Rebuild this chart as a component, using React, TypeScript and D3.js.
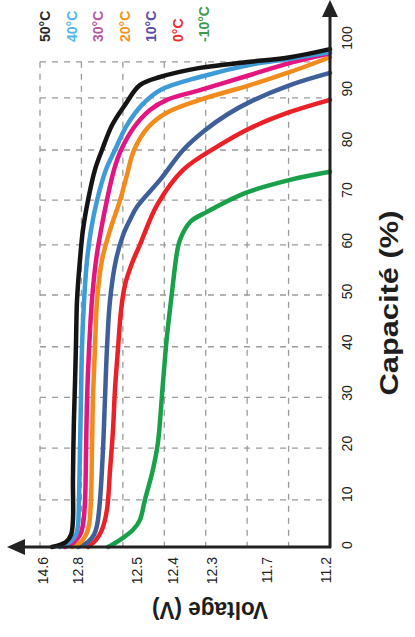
import React from "react";
import * as d3 from "d3";

// ---- Data (capacity %, voltage V) ----
const temperatures = ["50°C", "40°C", "30°C", "20°C", "10°C", "0°C", "-10°C"];
const capacityTicks = [0, 10, 20, 30, 40, 50, 60, 70, 80, 90, 100];
const voltageTicks = [14.6, 12.8, 12.5, 12.4, 12.3, 11.7, 11.2];
const gridCapacity = [9.3, 19.5, 29.5, 39.5, 49.7, 59.6, 68.4, 78.3, 88.6, 95.7];
const gridColumns = [0, 1, 2, 3, 4, 5, 6];

type Pt = [number, number];

const curve50: Pt[] = [
  [0, 14.14], [1.0, 13.42], [2.4, 13.16], [5.3, 13.06], [13.2, 13.06], [25.0, 13.01],
  [32.9, 12.95], [40.8, 12.9], [48.7, 12.85], [56.6, 12.79], [62.5, 12.775], [68.4, 12.749],
  [74.4, 12.714], [78.3, 12.678], [83.2, 12.627], [87.2, 12.561], [91.1, 12.492],
  [92.7, 12.436], [94.5, 12.331], [95.7, 11.885], [96.6, 11.517], [98.2, 11.2],
];
const curve40: Pt[] = [
  [0, 13.73], [1.0, 13.21], [2.4, 12.9], [4.3, 12.8], [9.3, 12.795], [19.1, 12.79],
  [29.0, 12.785], [38.9, 12.78], [48.7, 12.769], [56.6, 12.754], [62.5, 12.734],
  [68.4, 12.703], [74.4, 12.658], [78.3, 12.612], [83.2, 12.551], [87.2, 12.486],
  [90.1, 12.436], [92.7, 12.331], [95.1, 11.885], [96.3, 11.517], [97.6, 11.2],
];
const curve30: Pt[] = [
  [0, 13.47], [1.0, 13.01], [2.4, 12.79], [4.3, 12.775], [9.3, 12.764], [19.1, 12.759],
  [29.0, 12.754], [38.9, 12.744], [48.7, 12.729], [56.6, 12.708], [62.5, 12.683],
  [68.4, 12.653], [74.4, 12.617], [78.3, 12.581], [82.8, 12.515], [86.2, 12.464],
  [88.2, 12.417], [90.1, 12.331], [93.1, 11.885], [95.5, 11.517], [97.4, 11.2],
];
const curve20: Pt[] = [
  [0, 13.11], [1.0, 12.785], [2.4, 12.759], [4.3, 12.744], [9.3, 12.734], [19.1, 12.729],
  [29.0, 12.724], [38.9, 12.714], [48.7, 12.703], [56.6, 12.678], [62.5, 12.637],
  [68.4, 12.586], [73.4, 12.551], [78.3, 12.515], [82.8, 12.469], [85.8, 12.414],
  [88.2, 12.331], [91.1, 11.885], [93.7, 11.517], [96.6, 11.2],
];
const curve10: Pt[] = [
  [0, 12.8], [1.0, 12.749], [2.4, 12.719], [4.3, 12.703], [9.3, 12.688], [19.1, 12.673],
  [29.0, 12.663], [38.9, 12.653], [48.7, 12.637], [56.6, 12.607], [61.5, 12.571],
  [64.5, 12.536], [67.1, 12.5], [72.4, 12.436], [78.3, 12.374], [82.2, 12.318],
  [85.4, 12.125], [87.8, 11.885], [91.1, 11.517], [93.5, 11.2],
];
const curve0: Pt[] = [
  [0, 12.749], [1.4, 12.708], [3.4, 12.678], [7.3, 12.653], [15.2, 12.637], [23.1, 12.622],
  [31.0, 12.612], [38.9, 12.597], [46.7, 12.581], [51.7, 12.561], [56.0, 12.525],
  [59.6, 12.492], [67.5, 12.444], [74.4, 12.374], [79.3, 12.213], [82.6, 11.885],
  [85.8, 11.517], [88.2, 11.2],
];
const curveMinus10: Pt[] = [
  [0, 12.647], [1.4, 12.586], [3.4, 12.52], [5.3, 12.492], [9.3, 12.478], [15.2, 12.456],
  [20.5, 12.442], [32.3, 12.428], [41.4, 12.417], [50.1, 12.403], [58.0, 12.39],
  [60.6, 12.382], [64.1, 12.356], [66.1, 12.313], [69.8, 11.94], [72.4, 11.517], [74.0, 11.2],
];

const series = [curve50, curve40, curve30, curve20, curve10, curve0, curveMinus10];
const lineColors = ["#141414", "#3d9bd8", "#e5157f", "#f28b1c", "#3f5f9b", "#ec2027", "#19a04a"];
const legendColors = ["#2a2a2a", "#55b6ea", "#b35aa3", "#f7941d", "#5a4ea2", "#ef2b2f", "#3c9a4a"];

export default function App() {
  const W = 415;
  const H = 637;
  const x0 = 330; // capacity axis position
  const y0 = 547; // voltage axis position

  const y = d3.scaleLinear().domain([0, 100]).range([y0, 40]);
  const x = d3
    .scaleLinear()
    .domain(voltageTicks)
    .range([43, 78, 137, 173, 212, 267, x0]);
  const gx = d3.scaleLinear().domain([0, 7]).range([40, x0]);
  const legendX = d3.scaleLinear().domain([0, 6]).range([45, 204]);

  const gridTop = y(gridCapacity[gridCapacity.length - 1]);

  const line = d3
    .line<Pt>()
    .x((d) => x(d[1]))
    .y((d) => y(d[0]))
    .curve(d3.curveCatmullRom.alpha(0.5));

  const font = "'Liberation Sans', Arial, sans-serif";

  return (
    <svg
      width={W}
      height={H}
      style={{ position: "absolute", left: 0, top: 0, background: "#fff" }}
    >
      <rect width={W} height={H} fill="#fff" />
      {/* grid */}
      <g stroke="#9a9a9a" strokeWidth={1.3} strokeDasharray="6,6" fill="none">
        {gridColumns.map((c) => (
          <line key={"v" + c} x1={gx(c)} x2={gx(c)} y1={gridTop} y2={y0} />
        ))}
        {gridCapacity.map((c) => (
          <line key={"h" + c} x1={gx(0)} x2={x0} y1={y(c)} y2={y(c)} />
        ))}
      </g>

      {/* curves */}
      <g fill="none" strokeWidth={4.5} strokeLinecap="round" strokeLinejoin="round">
        {series
          .map((s, i) => ({ s, i }))
          .reverse()
          .map(({ s, i }) => (
            <path key={i} d={line(s) || ""} stroke={lineColors[i]} />
          ))}
      </g>

      {/* axes */}
      <g stroke="#222" strokeWidth={3} fill="none">
        <line x1={x0} x2={x0} y1={y0 + 1} y2={14} />
        <line x1={x0 + 1} x2={22} y1={y0} y2={y0} />
      </g>
      <polygon points={`${x0},0 ${x0 - 8},17 ${x0 + 8},17`} fill="#222" />
      <polygon points={`7,${y0} 25,${y0 - 8} 25,${y0 + 8}`} fill="#222" />

      {/* capacity ticks */}
      <g fontFamily={font} fontSize={14} fill="#222">
        {capacityTicks.map((c) => (
          <text
            key={c}
            transform={`translate(${x0 + 17},${y(c) - 2}) rotate(-90)`}
            textAnchor="middle"
            dominantBaseline="central"
          >
            {c}
          </text>
        ))}
      </g>

      {/* voltage ticks */}
      <g fontFamily={font} fontSize={14} fill="#222">
        {voltageTicks.map((v) => (
          <text
            key={v}
            transform={`translate(${x(v) - (v === 11.2 ? 4 : 0)},${y0 + 10}) rotate(-90)`}
            textAnchor="end"
            dominantBaseline="central"
          >
            {v.toFixed(1)}
          </text>
        ))}
      </g>

      {/* legend */}
      <g fontFamily={font} fontSize={14} fontWeight="bold">
        {temperatures.map((t, i) => (
          <text
            key={t}
            transform={`translate(${legendX(i)},42) rotate(-90)`}
            textAnchor="start"
            dominantBaseline="central"
            fill={legendColors[i]}
          >
            {t}
          </text>
        ))}
      </g>

      {/* axis titles */}
      <text
        transform={`translate(398,303) rotate(-90)`}
        textAnchor="middle"
        fontFamily={font}
        fontWeight="bold"
        fontSize={25}
        fill="#1e1e1e"
        textLength={185}
        lengthAdjust="spacingAndGlyphs"
      >
        Capacité (%)
      </text>
      <text
        transform={`translate(210,602) rotate(180)`}
        textAnchor="middle"
        fontFamily={font}
        fontWeight="bold"
        fontSize={24}
        fill="#1e1e1e"
        textLength={116}
        lengthAdjust="spacingAndGlyphs"
      >
        Voltage (V)
      </text>
    </svg>
  );
}
